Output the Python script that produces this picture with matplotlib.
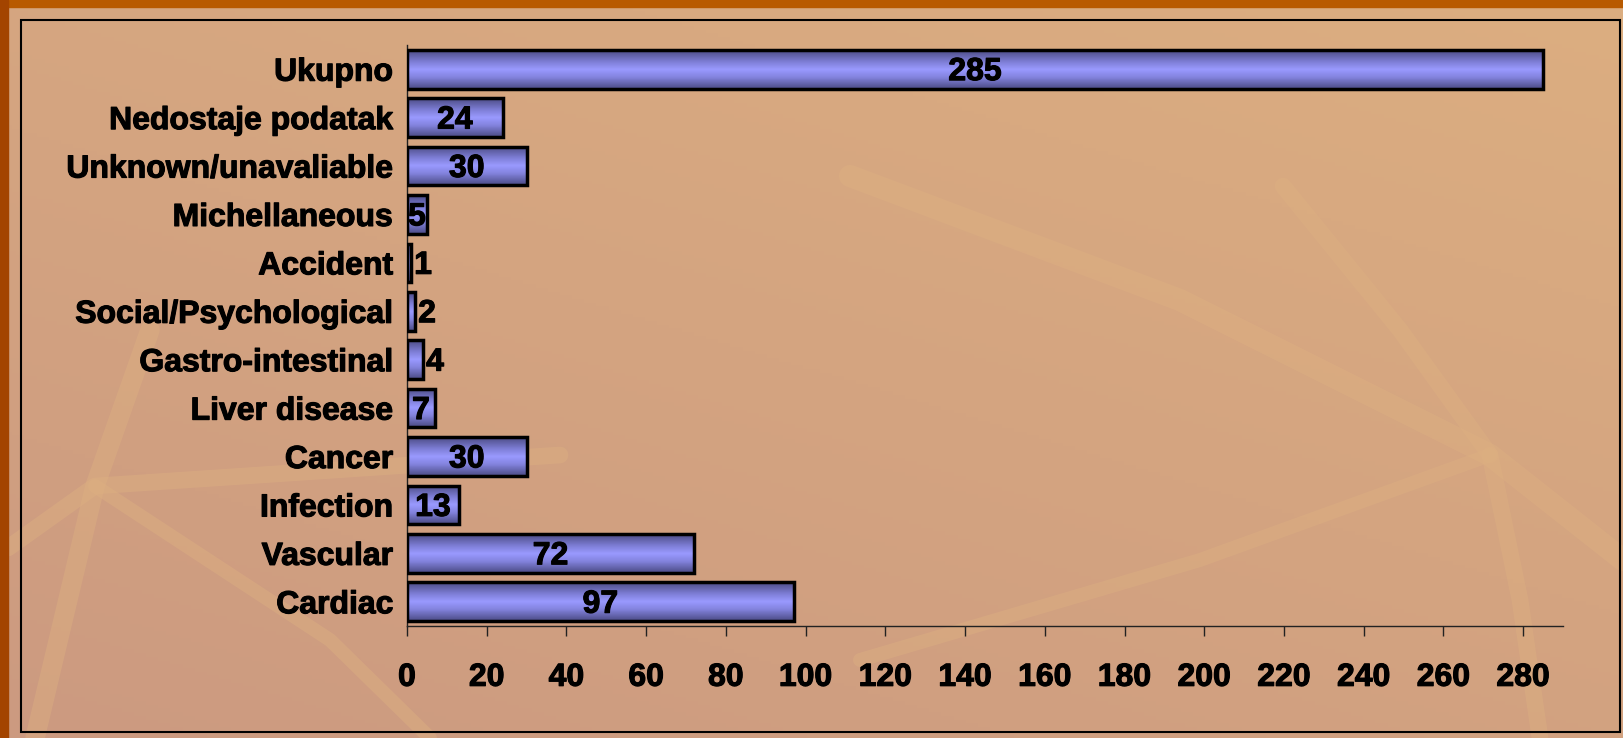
import matplotlib
matplotlib.use('Agg')
import matplotlib.pyplot as plt
import matplotlib.patheffects as pe
import numpy as np
from matplotlib.colors import LinearSegmentedColormap
from matplotlib.patches import Rectangle

# podaci (od dna prema vrhu)
categories = ['Cardiac', 'Vascular', 'Infection', 'Cancer', 'Liver disease',
              'Gastro-intestinal', 'Social/Psychological', 'Accident',
              'Michellaneous', 'Unknown/unavaliable', 'Nedostaje podatak', 'Ukupno']
values = [97, 72, 13, 30, 7, 4, 2, 1, 5, 30, 24, 285]
x_ticks = list(range(0, 281, 20))

plt.rcParams['font.family'] = ['Liberation Sans', 'DejaVu Sans']
plt.rcParams['font.weight'] = 'bold'
FS = 23
bold_fx = [pe.withStroke(linewidth=0.8, foreground='black')]

W, H = 1623, 738
fig = plt.figure(figsize=(W / 100, H / 100), dpi=100)
fig.patch.set_facecolor('#D4A37F')

# pozadina (gradijent + par svijetlih "listova")
bg = fig.add_axes([0, 0, 1, 1])
bg.set_xlim(0, W)
bg.set_ylim(H, 0)
bg.axis('off')
yy, xx = np.mgrid[0:1:200j, 0:1:400j]
t = np.clip(0.6 * yy + 0.4 * (1 - xx), 0, 1)
bg_cmap = LinearSegmentedColormap.from_list('bg', ['#DCAE80', '#CC9A80'])
bg.imshow(t, cmap=bg_cmap, extent=(0, W, H, 0), aspect='auto', zorder=0)

streak = dict(color='#DDB080', alpha=0.45, solid_capstyle='round',
              solid_joinstyle='round', zorder=1)
bg.plot([850, 1180, 1490, 1623], [176, 300, 455, 560], lw=16, **streak)
bg.plot([1283, 1400, 1490], [186, 330, 455], lw=12, **streak)
bg.plot([860, 1200, 1490], [660, 560, 455], lw=10, **streak)
bg.plot([1490, 1520, 1540], [455, 600, 738], lw=12, **streak)
bg.plot([8, 95, 560], [548, 486, 455], lw=12, **streak)
bg.plot([35, 95, 150], [738, 486, 330], lw=14, **streak)
bg.plot([95, 330, 430], [486, 640, 738], lw=10, **streak)

bg.add_patch(Rectangle((0, 0), W, 7, color='#B85A00', zorder=2))
bg.add_patch(Rectangle((0, 0), 8, H, color='#A34400', zorder=2))
bg.add_patch(Rectangle((21, 19.5), 1599, 712.5, fill=False, ec='black', lw=1.5, zorder=3))

# glavni graf
ax = fig.add_axes([407 / W, 1 - 626 / H, (1563 - 407) / W, (626 - 45) / H])
ax.patch.set_alpha(0)

bar_cmap = LinearSegmentedColormap.from_list(
    'bar', [(0, '#4C4C86'), (0.3, '#7E7ED6'), (0.5, '#9A9AFF'),
            (0.7, '#8383DE'), (1, '#4C4C86')])
grad = np.linspace(0, 1, 64).reshape(-1, 1)
h = 0.8
for i, v in enumerate(values):
    ax.imshow(grad, cmap=bar_cmap, extent=(0, v, i - h / 2, i + h / 2),
              aspect='auto', zorder=2, interpolation='bilinear')
    ax.barh(i, v, height=h, fill=False, edgecolor='black', linewidth=2.5, zorder=3)
    if v >= 5:
        ax.text(v / 2, i - 0.06, str(v), ha='center', va='center',
                fontsize=FS, fontweight='bold', zorder=4, path_effects=bold_fx)
    else:
        ax.text(v + 0.8, i - 0.06, str(v), ha='left', va='center',
                fontsize=FS, fontweight='bold', zorder=4, path_effects=bold_fx)

ax.set_xlim(0, 290)
ax.set_ylim(-0.5, len(values) - 0.5)
ax.set_yticks(range(len(categories)))
ax.set_yticklabels(categories, fontsize=FS, fontweight='bold')
ax.set_xticks(x_ticks)
ax.set_xticklabels([str(x) for x in x_ticks], fontsize=FS, fontweight='bold')
for lab in ax.get_xticklabels() + ax.get_yticklabels():
    lab.set_path_effects(bold_fx)
ax.tick_params(axis='y', length=0, pad=10)
ax.tick_params(axis='x', length=7.5, width=1, color='#222222', pad=19)

for s in ['top', 'right']:
    ax.spines[s].set_visible(False)
for s in ['left', 'bottom']:
    ax.spines[s].set_linewidth(1)
    ax.spines[s].set_color('#222222')

fig.savefig('out.png', dpi=100, facecolor=fig.get_facecolor())
